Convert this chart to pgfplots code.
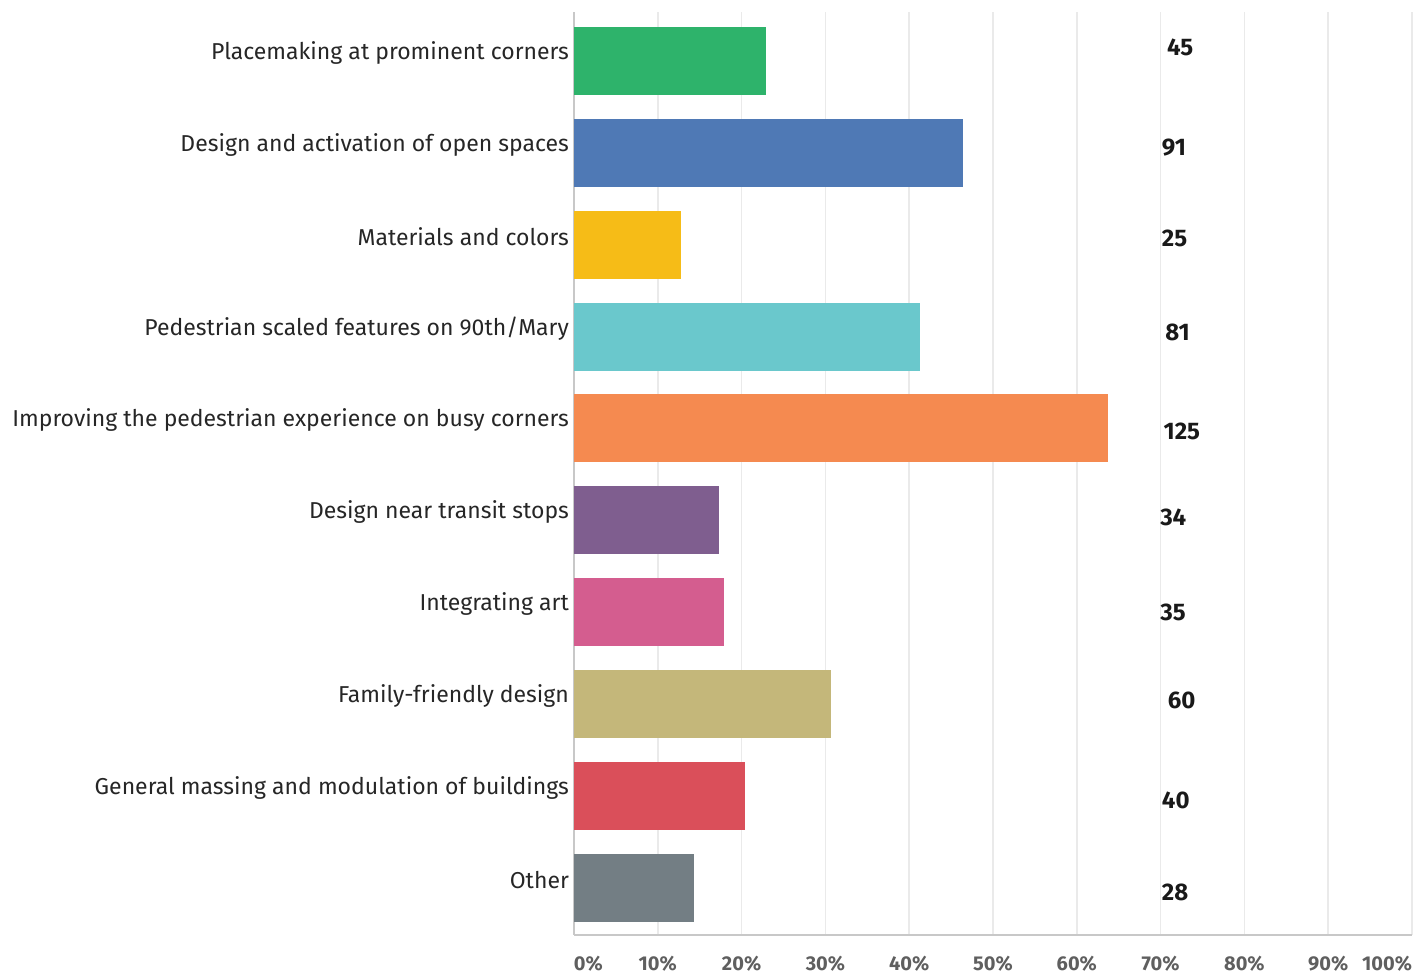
\documentclass[border=0pt]{standalone}
\usepackage{pgfplots}
\pgfplotsset{compat=1.18}
\usepackage{pgfplotstable}
\usepackage{fontspec}
\setmainfont{Fira Sans}
\definecolor{cgreen}{RGB}{46,179,107}
\definecolor{cblue}{RGB}{79,121,181}
\definecolor{cyellow}{RGB}{246,188,23}
\definecolor{cteal}{RGB}{106,200,204}
\definecolor{corange}{RGB}{245,138,80}
\definecolor{cpurple}{RGB}{127,94,143}
\definecolor{cpink}{RGB}{212,93,143}
\definecolor{ckhaki}{RGB}{196,183,122}
\definecolor{cred}{RGB}{218,79,90}
\definecolor{cgray}{RGB}{115,126,132}
\definecolor{gridc}{RGB}{234,234,234}
\definecolor{axisc}{RGB}{200,200,200}
\definecolor{tickc}{RGB}{95,95,95}
\pgfplotstableread{
x y c
70.4 -0.14 45
69.8 0.94 91
69.8 1.93 25
70.2 2.96 81
70.0 4.03 125
69.6 4.97 34
69.6 6.00 35
70.5 6.96 60
69.8 8.05 40
69.8 9.05 28
}\counts
\begin{document}
\begin{tikzpicture}
\begin{axis}[
  scale only axis,
  width=419pt, height=461.5pt,
  xmin=0, xmax=100, ymin=-0.53, ymax=9.51,
  y dir=reverse,
  xbar, bar width=34pt,
  xtick={0,10,...,100},
  xticklabels={\makebox[0pt][l]{0\%},10\%,20\%,30\%,40\%,50\%,60\%,70\%,80\%,90\%,\makebox[0pt][r]{100\%}},
  xticklabel style={font=\bfseries\fontsize{10}{12}\selectfont, text=tickc, yshift=-7pt},
  ytick={0,...,9},
  yticklabels={Placemaking at prominent corners, Design and activation of open spaces, Materials and colors, Pedestrian scaled features on 90th/Mary, Improving the pedestrian experience on busy corners, Design near transit stops, Integrating art, Family-friendly design, General massing and modulation of buildings, Other},
  yticklabel style={font=\fontsize{11.5}{14}\selectfont, text=black!85, yshift=4pt, xshift=1pt},
  major tick length=0pt,
  xmajorgrids, grid style={gridc, line width=0.8pt},
  axis line style={axisc, line width=0.8pt},
  axis x line*=bottom, axis y line*=left,
  x axis line style={-}, y axis line style={-},
  clip=false,
]
\addplot[fill=cgreen, draw=none, bar shift=0pt] coordinates {(22.96,0)};
\addplot[fill=cblue, draw=none, bar shift=0pt] coordinates {(46.43,1)};
\addplot[fill=cyellow, draw=none, bar shift=0pt] coordinates {(12.76,2)};
\addplot[fill=cteal, draw=none, bar shift=0pt] coordinates {(41.33,3)};
\addplot[fill=corange, draw=none, bar shift=0pt] coordinates {(63.78,4)};
\addplot[fill=cpurple, draw=none, bar shift=0pt] coordinates {(17.35,5)};
\addplot[fill=cpink, draw=none, bar shift=0pt] coordinates {(17.86,6)};
\addplot[fill=ckhaki, draw=none, bar shift=0pt] coordinates {(30.61,7)};
\addplot[fill=cred, draw=none, bar shift=0pt] coordinates {(20.41,8)};
\addplot[fill=cgray, draw=none, bar shift=0pt] coordinates {(14.29,9)};
\addplot[xbar=0pt, draw=none, fill=none, mark=none, bar width=0pt,
  nodes near coords, point meta=explicit symbolic,
  every node near coord/.style={anchor=west, font=\bfseries\fontsize{12}{14}\selectfont, text=black!90, xshift=-2pt}]
  table[x=x, y=y, meta=c] {\counts};
\end{axis}
\path (-287pt,-21pt) rectangle (424.5pt,467.5pt);
\end{tikzpicture}
\end{document}
